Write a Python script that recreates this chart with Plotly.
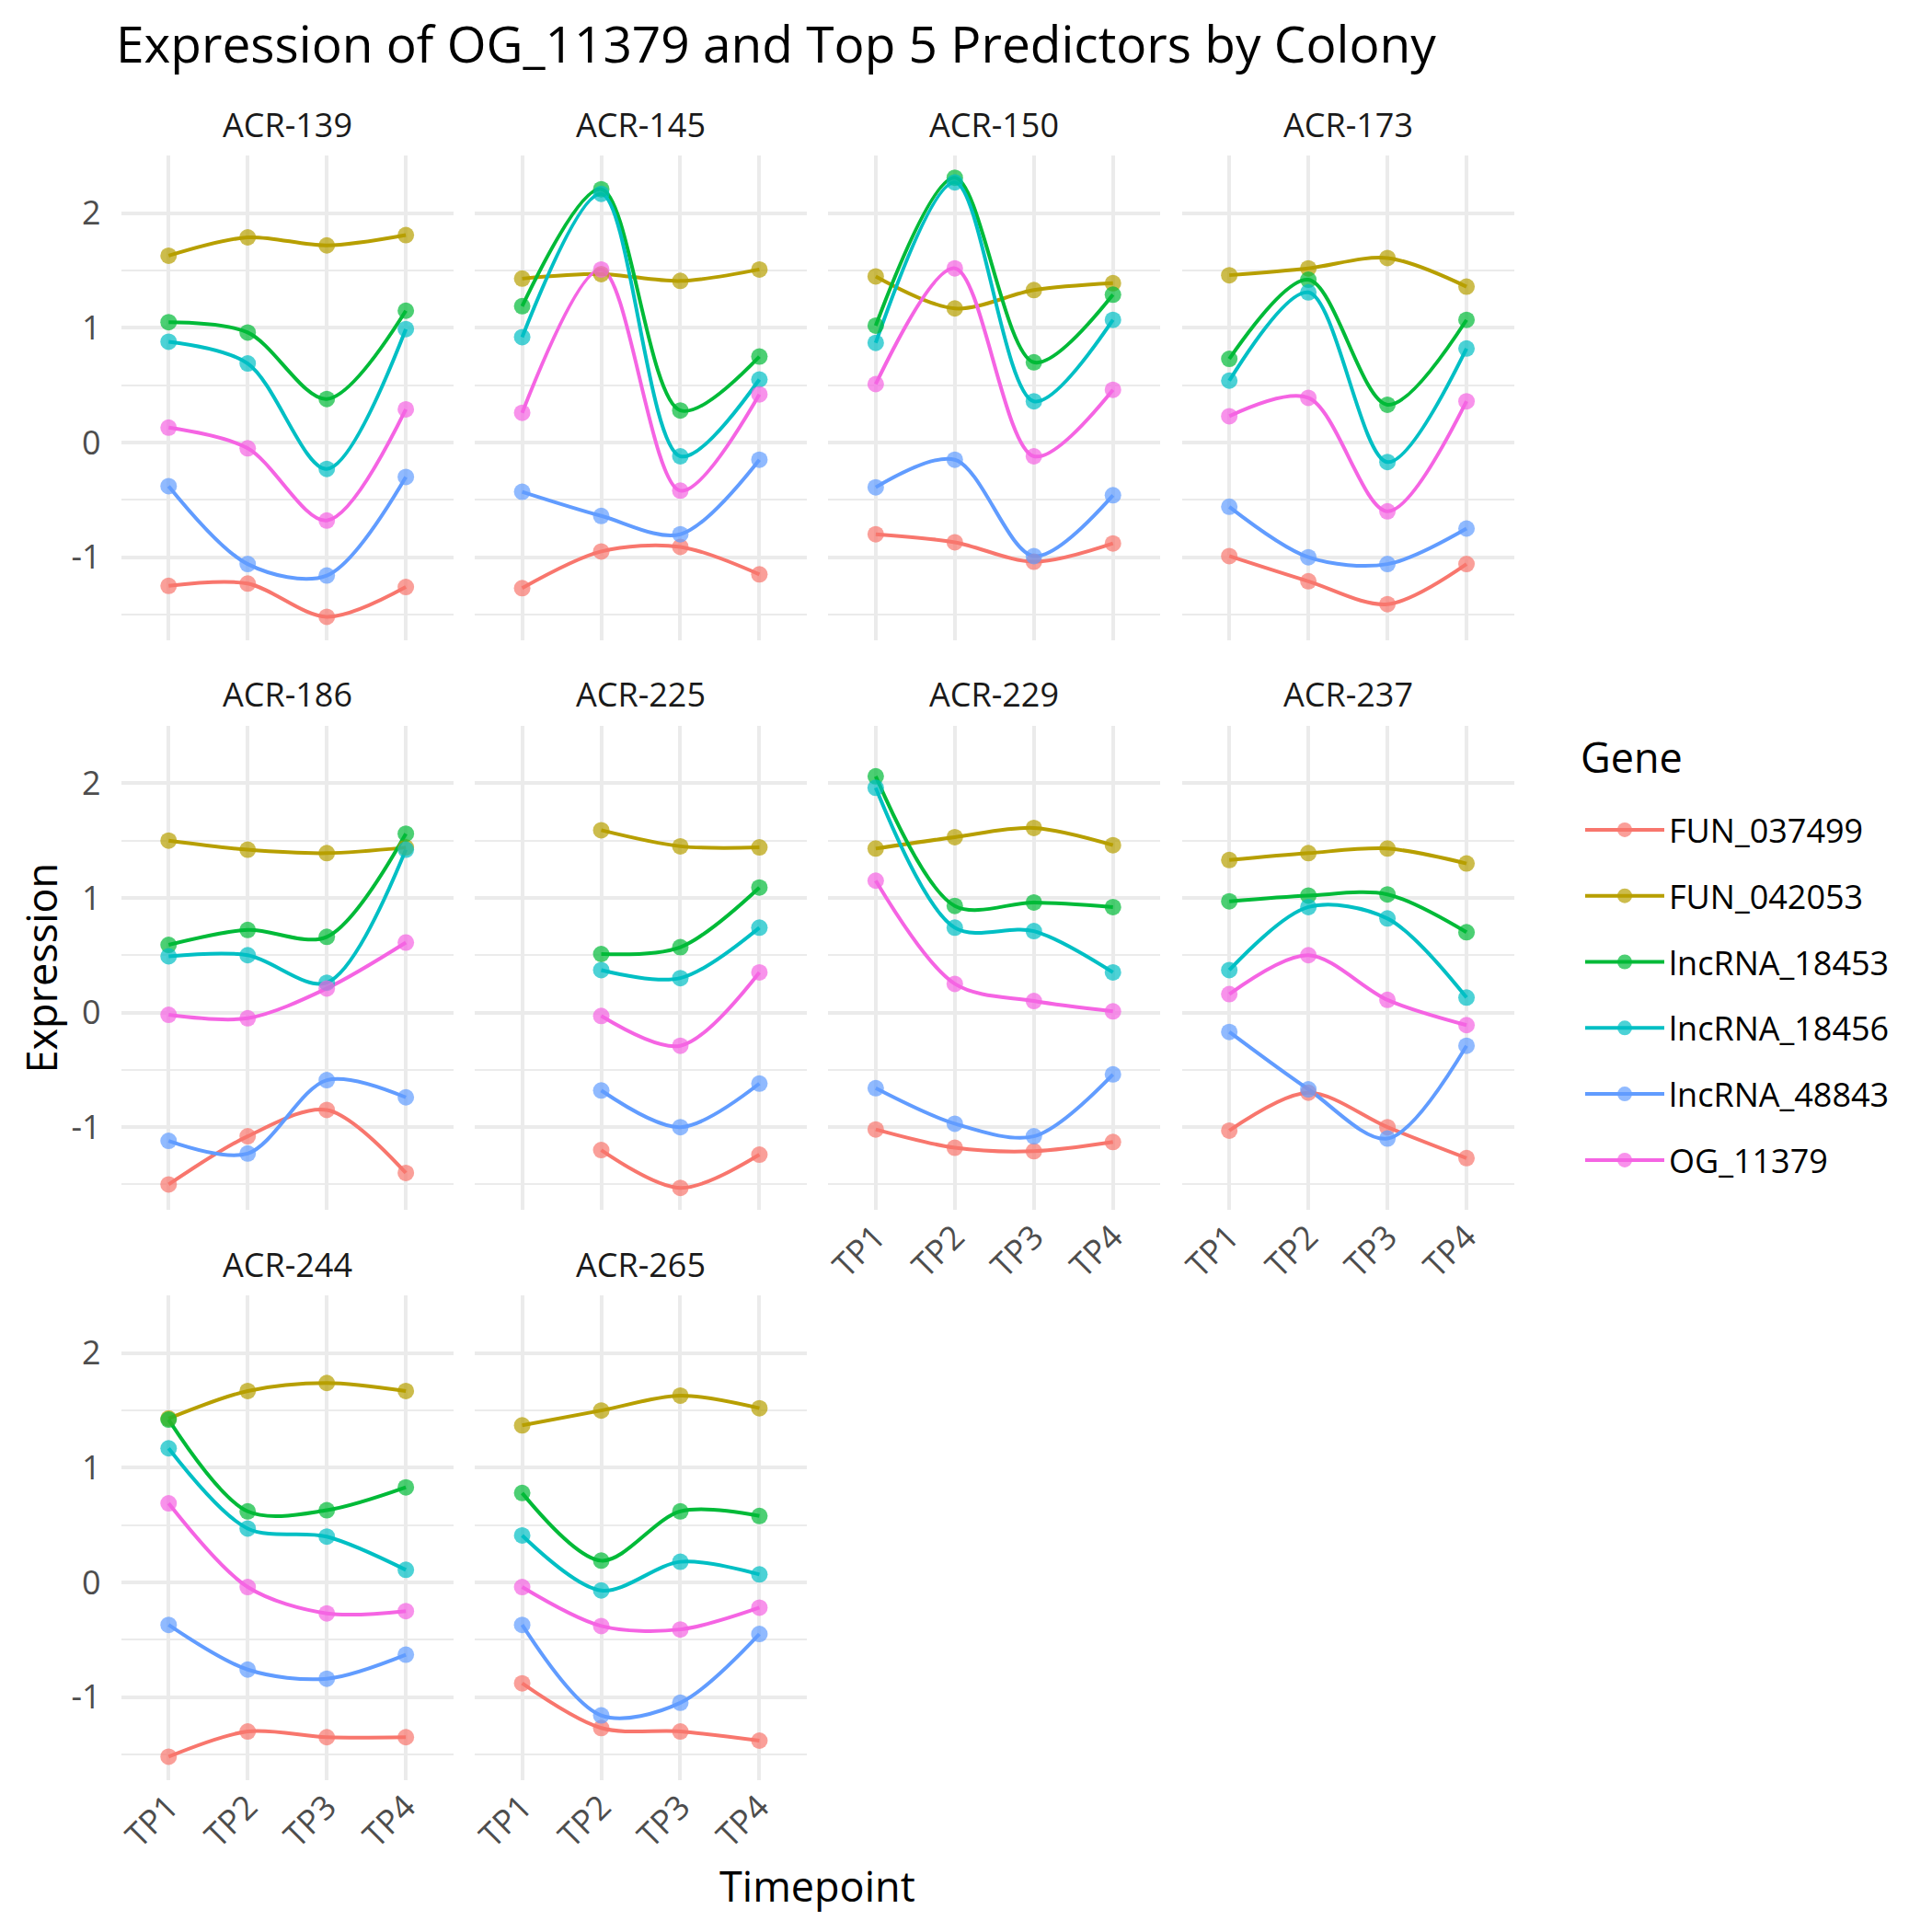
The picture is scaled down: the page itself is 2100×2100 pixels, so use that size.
import plotly.graph_objects as go

colonies = ["ACR-139", "ACR-145", "ACR-150", "ACR-173", "ACR-186",
            "ACR-225", "ACR-229", "ACR-237", "ACR-244", "ACR-265"]
timepoints = ["TP1", "TP2", "TP3", "TP4"]
genes = ["FUN_037499", "FUN_042053", "lncRNA_18453", "lncRNA_18456", "lncRNA_48843", "OG_11379"]
colors = ["#F8766D", "#B79F00", "#00BA38", "#00BFC4", "#619CFF", "#F564E3"]

# values per colony (rows, in colonies order), per timepoint (cols)
FUN_037499 = [
    [-1.25, -1.23, -1.52, -1.26],
    [-1.27, -0.95, -0.91, -1.15],
    [-0.80, -0.87, -1.04, -0.88],
    [-0.99, -1.21, -1.41, -1.06],
    [-1.50, -1.08, -0.85, -1.40],
    [None, -1.20, -1.53, -1.24],
    [-1.02, -1.18, -1.21, -1.13],
    [-1.03, -0.70, -1.00, -1.27],
    [-1.52, -1.30, -1.35, -1.35],
    [-0.88, -1.27, -1.30, -1.38],
]
FUN_042053 = [
    [1.63, 1.79, 1.72, 1.81],
    [1.43, 1.47, 1.41, 1.51],
    [1.45, 1.17, 1.33, 1.39],
    [1.46, 1.52, 1.61, 1.36],
    [1.50, 1.42, 1.39, 1.44],
    [None, 1.59, 1.45, 1.44],
    [1.43, 1.53, 1.61, 1.46],
    [1.33, 1.39, 1.43, 1.30],
    [1.43, 1.67, 1.74, 1.67],
    [1.37, 1.50, 1.63, 1.52],
]
lncRNA_18453 = [
    [1.05, 0.96, 0.38, 1.15],
    [1.19, 2.21, 0.28, 0.75],
    [1.02, 2.31, 0.70, 1.29],
    [0.73, 1.42, 0.33, 1.07],
    [0.59, 0.72, 0.66, 1.56],
    [None, 0.51, 0.57, 1.09],
    [2.06, 0.93, 0.96, 0.92],
    [0.97, 1.02, 1.03, 0.70],
    [1.42, 0.62, 0.63, 0.83],
    [0.78, 0.19, 0.62, 0.58],
]
lncRNA_18456 = [
    [0.88, 0.69, -0.23, 0.99],
    [0.92, 2.17, -0.12, 0.55],
    [0.87, 2.27, 0.36, 1.07],
    [0.54, 1.31, -0.17, 0.82],
    [0.49, 0.50, 0.26, 1.42],
    [None, 0.37, 0.30, 0.74],
    [1.96, 0.74, 0.71, 0.35],
    [0.37, 0.92, 0.82, 0.13],
    [1.17, 0.47, 0.40, 0.11],
    [0.41, -0.07, 0.18, 0.07],
]
lncRNA_48843 = [
    [-0.38, -1.06, -1.16, -0.30],
    [-0.43, -0.64, -0.80, -0.15],
    [-0.39, -0.15, -0.99, -0.46],
    [-0.56, -1.00, -1.06, -0.75],
    [-1.12, -1.23, -0.59, -0.74],
    [None, -0.68, -1.00, -0.62],
    [-0.66, -0.97, -1.08, -0.54],
    [-0.17, -0.67, -1.10, -0.29],
    [-0.37, -0.76, -0.84, -0.63],
    [-0.37, -1.16, -1.05, -0.45],
]
OG_11379 = [
    [0.13, -0.05, -0.68, 0.29],
    [0.26, 1.51, -0.42, 0.42],
    [0.51, 1.52, -0.12, 0.46],
    [0.23, 0.39, -0.60, 0.36],
    [-0.02, -0.05, 0.21, 0.61],
    [None, -0.03, -0.29, 0.35],
    [1.15, 0.25, 0.10, 0.01],
    [0.16, 0.50, 0.11, -0.11],
    [0.69, -0.04, -0.27, -0.25],
    [-0.04, -0.38, -0.41, -0.22],
]
y_ticks = [-1, 0, 1, 2]
y_minor = [-1.5, -0.5, 0.5, 1.5]

series = [FUN_037499, FUN_042053, lncRNA_18453, lncRNA_18456, lncRNA_48843, OG_11379]

# ---- layout geometry (pixels of a 2100x2100 canvas) ----
W = H = 2100
OFF = 8  # page offset of the figure inside the browser window
FONT = "Open Sans"
P_LEFT, P_W, P_DX = 131.7 - OFF, 361.0, 384.3
P_TOP, P_H, P_DY = 169.3 - OFF, 526.3, 619.5
NCOL = 4

allv = [v for s in series for row in s for v in row if v is not None]
lo, hi = min(allv), max(allv)
span = hi - lo
y_range = [lo - 0.05 * span, hi + 0.05 * span]

fig = go.Figure()
layout = {}
annotations = []
GRID = "#EBEBEB"


def ax_names(k):
    return ("x" if k == 1 else f"x{k}", "y" if k == 1 else f"y{k}",
            "xaxis" if k == 1 else f"xaxis{k}", "yaxis" if k == 1 else f"yaxis{k}")


n = len(colonies)
for i, col in enumerate(colonies):
    r, c = divmod(i, NCOL)
    k = i + 1
    xr, yr, xa, ya = ax_names(k)
    x0 = P_LEFT + c * P_DX
    top = P_TOP + r * P_DY
    has_below = (i + NCOL) < n
    layout[xa] = dict(
        domain=[x0 / W, (x0 + P_W) / W], anchor=yr,
        type="category", categoryorder="array", categoryarray=timepoints,
        range=[-0.6, len(timepoints) - 1 + 0.6],
        showgrid=True, gridcolor=GRID, gridwidth=4, zeroline=False, showline=False,
        ticks="", showticklabels=not has_below, tickangle=-45,
        tickfont=dict(family=FONT, size=36, color="#4D4D4D"),
        ticklabelstandoff=0, automargin=False,
    )
    layout[ya] = dict(
        domain=[1 - (top + P_H) / H, 1 - top / H], anchor=xr,
        range=y_range, tickmode="array", tickvals=y_ticks,
        ticktext=[str(v) for v in y_ticks],
        showgrid=True, gridcolor=GRID, gridwidth=4, zeroline=False, showline=False,
        ticks="", showticklabels=(c == 0),
        tickfont=dict(family=FONT, size=36, color="#4D4D4D"),
        ticklabelstandoff=21, automargin=False,
        minor=dict(tickvals=y_minor, showgrid=True, gridcolor=GRID, gridwidth=2, ticks=""),
    )
    annotations.append(dict(
        text=col, x=(x0 + P_W / 2) / W, y=1 - (top - 34) / H, xref="paper", yref="paper",
        xanchor="center", yanchor="middle", showarrow=False,
        font=dict(family=FONT, size=36, color="#1A1A1A"),
    ))
    # lines first, then points (ggplot layering)
    for g, s, colr in zip(genes, series, colors):
        xs = [t for t, v in zip(timepoints, s[i]) if v is not None]
        ys = [v for v in s[i] if v is not None]
        fig.add_trace(go.Scatter(
            x=xs, y=ys, xaxis=xr, yaxis=yr, mode="lines",
            line=dict(color=colr, width=4, shape="spline", smoothing=0.9),
            showlegend=False, hoverinfo="skip",
        ))
    for g, s, colr in zip(genes, series, colors):
        xs = [t for t, v in zip(timepoints, s[i]) if v is not None]
        ys = [v for v in s[i] if v is not None]
        fig.add_trace(go.Scatter(
            x=xs, y=ys, xaxis=xr, yaxis=yr, mode="markers",
            marker=dict(color=colr, size=18, opacity=0.7),
            showlegend=False, name=g,
        ))

# legend entries (line + point key, like ggplot)
for g, colr in zip(genes, colors):
    fig.add_trace(go.Scatter(
        x=[None], y=[None], mode="lines+markers", name=g, legendgroup=g,
        line=dict(color=colr, width=4), marker=dict(color=colr, size=16, opacity=0.7),
        showlegend=True,
    ))

annotations += [
    dict(text="Expression", x=4 / W, y=1 - (P_TOP + (2 * P_DY + P_H) / 2) / H,
         xref="paper", yref="paper", textangle=-90, xanchor="left", yanchor="middle",
         showarrow=False, font=dict(family=FONT, size=45, color="#000000")),
    dict(text="Timepoint", x=(P_LEFT + (3 * P_DX + P_W) / 2) / W, y=1 - (2049 - OFF) / H,
         xref="paper", yref="paper", xanchor="center", yanchor="middle",
         showarrow=False, font=dict(family=FONT, size=45, color="#000000")),
    dict(text="Gene", x=(1716 - OFF) / W, y=1 - (823 - OFF) / H,
         xref="paper", yref="paper", xanchor="left", yanchor="middle",
         showarrow=False, font=dict(family=FONT, size=45, color="#000000")),
]

fig.update_layout(
    width=W, height=H, plot_bgcolor="white", paper_bgcolor="white",
    margin=dict(l=0, r=0, t=0, b=0, autoexpand=False),
    title=dict(text="Expression of OG_11379 and Top 5 Predictors by Colony",
               x=(126 - OFF) / W, xref="paper", xanchor="left",
               y=1 - 41 / H, yref="container", yanchor="middle",
               font=dict(family=FONT, size=55, color="#000000")),
    annotations=annotations,
    legend=dict(
        font=dict(family=FONT, size=36, color="#000000"),
        x=(1718 - OFF) / W, y=1 - (872 - OFF) / H, xanchor="left", yanchor="top",
        traceorder="grouped", tracegroupgap=22, itemwidth=86,
        bgcolor="rgba(0,0,0,0)",
    ),
    **layout,
)

fig.write_html("out.html")
